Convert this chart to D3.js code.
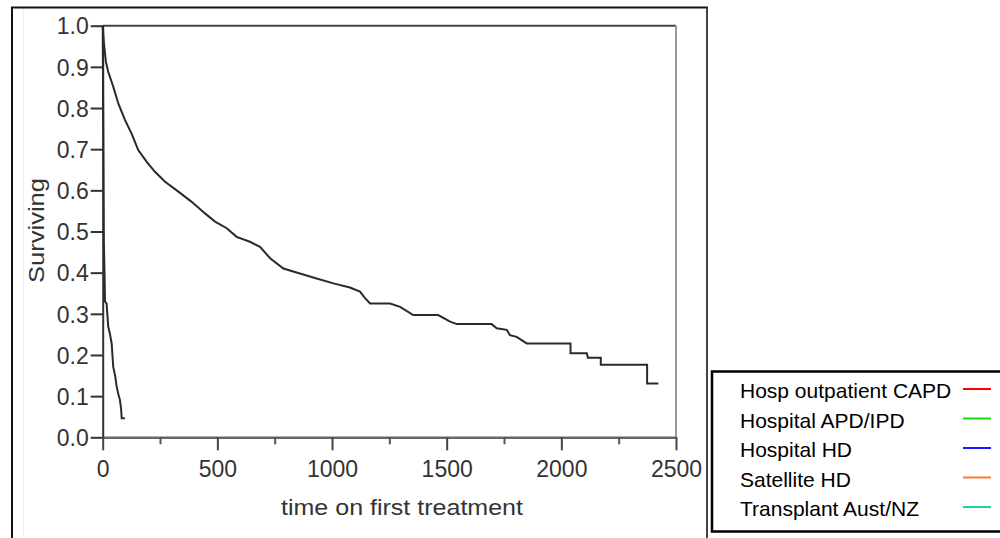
<!DOCTYPE html>
<html>
<head>
<meta charset="utf-8">
<script src="https://cdn.jsdelivr.net/npm/d3@7"></script>
<style>
  html, body { margin: 0; padding: 0; background: #fff; }
  svg { display: block; }
  text { font-family: "Liberation Sans", Arial, sans-serif; }
</style>
</head>
<body>
<svg id="chart" width="1000" height="538"></svg>
<script>
// ---- data ----
const mainTime = [0, 5, 14, 24, 46, 68, 97, 126, 155, 192, 228, 272, 330, 388, 446, 490, 541, 584, 642, 686, 730, 788, 860, 933, 1006, 1078, 1122, 1144, 1166, 1253, 1297, 1354, 1463, 1515, 1544, 1696, 1718, 1762, 1776, 1805, 1827, 1849, 2040, 2040, 2111, 2116, 2172, 2172, 2374, 2374, 2423];
const mainSurv = [1.0, 0.96, 0.912, 0.888, 0.852, 0.811, 0.771, 0.738, 0.698, 0.669, 0.645, 0.621, 0.597, 0.572, 0.544, 0.524, 0.508, 0.487, 0.475, 0.463, 0.435, 0.410, 0.398, 0.386, 0.374, 0.364, 0.354, 0.338, 0.325, 0.325, 0.317, 0.297, 0.297, 0.281, 0.275, 0.275, 0.265, 0.261, 0.248, 0.244, 0.236, 0.228, 0.228, 0.204, 0.204, 0.193, 0.193, 0.176, 0.176, 0.131, 0.131];
const secondTime = [0, 3, 5, 8, 10, 17, 24, 32, 39, 46, 54, 61, 68, 75, 80, 83, 97];
const secondSurv = [1.0, 0.70, 0.475, 0.40, 0.33, 0.325, 0.269, 0.25, 0.228, 0.171, 0.15, 0.123, 0.105, 0.091, 0.07, 0.046, 0.046];
const xTicks = [0, 500, 1000, 1500, 2000, 2500];
const xMinorTicks = [250, 750, 1250, 1750, 2250];
const yTicks = [0.0, 0.1, 0.2, 0.3, 0.4, 0.5, 0.6, 0.7, 0.8, 0.9, 1.0];
const legendLabels = ["Hosp outpatient CAPD", "Hospital APD/IPD", "Hospital HD", "Satellite HD", "Transplant Aust/NZ"];
const legendColors = ["#ff0000", "#11dd11", "#1a1aff", "#ff7a33", "#1ad49a"];
const xTitle = "time on first treatment";
const yTitle = "Surviving";

// ---- layout ----
const svg = d3.select("#chart");
const x = d3.scaleLinear().domain([0, 2500]).range([102.7, 676]);
const y = d3.scaleLinear().domain([0, 1]).range([437.3, 25.7]);

// outer frame
svg.append("line").attr("x1", 12).attr("x2", 12).attr("y1", 7.5).attr("y2", 538).attr("stroke", "#111").attr("stroke-width", 2);
svg.append("line").attr("x1", 11).attr("x2", 708).attr("y1", 7.5).attr("y2", 7.5).attr("stroke", "#111").attr("stroke-width", 2);
svg.append("line").attr("x1", 707).attr("x2", 707).attr("y1", 7.5).attr("y2", 538).attr("stroke", "#444").attr("stroke-width", 2);
svg.append("line").attr("x1", 23.5).attr("x2", 23.5).attr("y1", 9).attr("y2", 538).attr("stroke", "#f0f0f0").attr("stroke-width", 1);

// plot box (top + right)
svg.append("line").attr("x1", x(0)).attr("x2", x(2500)).attr("y1", y(1)).attr("y2", y(1)).attr("stroke", "#444").attr("stroke-width", 2);
svg.append("line").attr("x1", x(2500)).attr("x2", x(2500)).attr("y1", y(1)).attr("y2", y(0)).attr("stroke", "#999").attr("stroke-width", 2);

// x axis
const gx = svg.append("g").attr("transform", `translate(0,${y(0)})`)
  .call(d3.axisBottom(x).tickValues(xTicks).tickFormat(d3.format("d")).tickSize(13).tickSizeOuter(0));
gx.select(".domain").attr("stroke", "#666").attr("stroke-width", 2.5);
gx.selectAll(".tick line").attr("stroke", "#444").attr("stroke-width", 2);
gx.selectAll(".tick text").attr("y", 40).attr("dy", 0)
  .attr("font-size", 23).attr("fill", "#333").attr("font-family", "Liberation Sans, Arial, sans-serif");
const gxm = svg.append("g").attr("transform", `translate(0,${y(0)})`)
  .call(d3.axisBottom(x).tickValues(xMinorTicks).tickFormat("").tickSize(7).tickSizeOuter(0));
gxm.select(".domain").remove();
gxm.selectAll(".tick line").attr("stroke", "#555").attr("stroke-width", 2);

// y axis
const gy = svg.append("g").attr("transform", `translate(${x(0)},0)`)
  .call(d3.axisLeft(y).tickValues(yTicks).tickFormat(d3.format(".1f")).tickSize(12).tickSizeOuter(0));
gy.select(".domain").attr("stroke", "#333").attr("stroke-width", 2);
gy.selectAll(".tick line").attr("stroke", "#333").attr("stroke-width", 2);
gy.selectAll(".tick text").attr("x", -14).attr("dy", "0.36em")
  .attr("font-size", 23).attr("fill", "#333").attr("font-family", "Liberation Sans, Arial, sans-serif");

// axis titles
svg.append("text").attr("x", 402).attr("y", 515).attr("text-anchor", "middle")
  .attr("font-size", 22).attr("fill", "#333")
  .attr("textLength", 242).attr("lengthAdjust", "spacingAndGlyphs").text(xTitle);
svg.append("text").attr("transform", "translate(43.5,230.5) rotate(-90)").attr("text-anchor", "middle")
  .attr("font-size", 22).attr("fill", "#333")
  .attr("textLength", 105).attr("lengthAdjust", "spacingAndGlyphs").text(yTitle);

// curves
const line = d3.line().x(d => x(d[0])).y(d => y(d[1]));
svg.append("path").datum(d3.zip(mainTime, mainSurv)).attr("d", line)
  .attr("fill", "none").attr("stroke", "#2a2a2a").attr("stroke-width", 2);
svg.append("path").datum(d3.zip(secondTime, secondSurv)).attr("d", line)
  .attr("fill", "none").attr("stroke", "#2a2a2a").attr("stroke-width", 2);

// legend
svg.append("rect").attr("x", 712).attr("y", 371.5).attr("width", 300).attr("height", 160)
  .attr("fill", "#fff").attr("stroke", "#000").attr("stroke-width", 2.5);
const leg = svg.append("g").selectAll("g").data(legendLabels).join("g")
  .attr("transform", (d, i) => `translate(0,${398 + i * 29.5})`);
leg.append("text").attr("x", 740).attr("y", 0).attr("font-size", 21).attr("fill", "#000").text(d => d);
leg.append("line").attr("x1", 963).attr("x2", 991).attr("y1", -9).attr("y2", -9)
  .attr("stroke", (d, i) => legendColors[i]).attr("stroke-width", 2);
</script>
</body>
</html>
